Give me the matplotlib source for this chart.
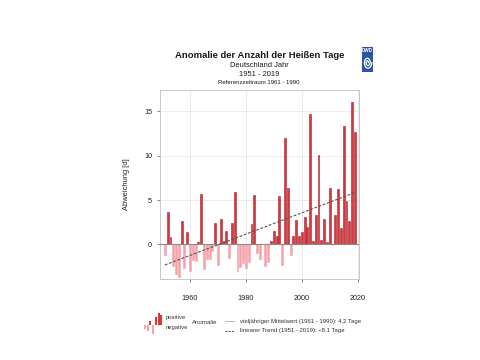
import numpy as np
import matplotlib
matplotlib.use("Agg")
import matplotlib.pyplot as plt
from matplotlib.patches import Rectangle

plt.rcParams['font.family'] = ['Liberation Sans', 'DejaVu Sans']

# Anomalie der Anzahl der Heissen Tage, Deutschland, Referenz 1961-1990
years = list(range(1951, 2020))
anomaly = [-1.2, 3.7, 0.85, -2.4, -3.3, -3.7, 2.6, -2.7, 1.35, -3.0,
           -1.8, -1.9, 0.25, 5.7, -2.8, -1.7, -1.6, -0.8, 2.4, -2.3,
           2.9, 0.4, 1.5, -1.5, 2.4, 5.9, -3.0, -2.5, -2.1, -2.7,
           -2.0, 2.3, 5.6, -1.0, -1.6, 0.1, -2.4, -2.0, 0.4, 1.5,
           0.9, 5.4, -2.3, 12.0, 6.3, -1.2, 0.9, 2.8, 0.9, 1.4,
           3.1, 2.0, 14.7, 0.4, 3.3, 10.1, 0.5, 2.9, 0.3, 6.3,
           -0.1, 3.3, 6.2, 1.8, 13.3, 4.9, 2.6, 16.1, 12.7]
xticks = [1960, 1980, 2000, 2020]
yticks = [0, 5, 10, 15]
icon_vals = [-0.35, -0.6, 0.5, -1.0, 0.9, 1.4, 1.2]

pos_col = '#d9363e'
pos_edge = '#a8222a'
neg_col = '#f6a3a8'

yrs = np.array(years)
ano = np.array(anomaly)

fig = plt.figure(figsize=(4.8, 3.6), dpi=100)
ax = fig.add_axes([0.333, 0.225, 0.415, 0.525])

cols = [pos_col if v >= 0 else neg_col for v in ano]
edges = [pos_edge if v >= 0 else neg_col for v in ano]
ax.bar(yrs, ano, width=0.68, color=cols, edgecolor=edges, linewidth=0.4, zorder=2)

# baseline = vieljaehriger Mittelwert
ax.axhline(0, color='#8a8a8a', linewidth=0.8, zorder=3)

# linear trend
k, d = np.polyfit(yrs, ano, 1)
ax.plot([yrs[0], yrs[-1]], [k * yrs[0] + d, k * yrs[-1] + d],
        color='#555555', linestyle=(0, (2.5, 1.5)), linewidth=0.8, zorder=4)

ax.set_xlim(1949.2, 2020.5)
ax.set_ylim(-3.9, 17.4)
ax.set_xticks(xticks)
ax.set_yticks(yticks)
ax.grid(True, color='#e9e9e9', linewidth=0.6, zorder=0)
ax.set_axisbelow(True)
for s in ax.spines.values():
    s.set_color('#c8c8c8')
    s.set_linewidth(0.7)
ax.tick_params(axis='both', colors='#555555', labelcolor='#222222',
               labelsize=5.2, length=2.5, width=0.5)
ax.tick_params(axis='x', pad=9)
ax.tick_params(axis='y', pad=3)
ax.set_ylabel('Abweichung [d]', fontsize=5.4, labelpad=10, color='#222222')

# titles
cx = 0.54
fig.text(cx, 0.847, 'Anomalie der Anzahl der Heißen Tage', ha='center', va='center',
         fontsize=6.8, fontweight='bold', color='#1a1a1a')
fig.text(cx, 0.819, 'Deutschland Jahr', ha='center', va='center', fontsize=5.4, color='#1a1a1a')
fig.text(cx, 0.792, '1951 - 2019', ha='center', va='center', fontsize=5.4, color='#1a1a1a')
fig.text(cx, 0.770, 'Referenzzeitraum 1961 - 1990', ha='center', va='center', fontsize=4.3, color='#1a1a1a')

# DWD logo
lax = fig.add_axes([0.754, 0.800, 0.024, 0.069])
lax.add_patch(Rectangle((0, 0), 1, 1, facecolor='#2b55a8', edgecolor='none'))
lax.text(0.5, 0.85, 'DWD', ha='center', va='center', fontsize=3.3,
         fontweight='bold', color='white')
t = np.linspace(0, 4 * np.pi, 200)
r = 0.06 + 0.3 * t / t[-1]
lax.plot(0.5 + r * np.cos(t), 0.38 + 0.7 * r * np.sin(t), color='white', linewidth=0.9)
lax.set_xlim(0, 1)
lax.set_ylim(0, 1)
lax.axis('off')

# legend
iax = fig.add_axes([0.298, 0.069, 0.042, 0.064])
ix = np.arange(len(icon_vals))
iax.bar(ix, icon_vals, width=0.7,
        color=[pos_col if v >= 0 else neg_col for v in icon_vals])
iax.set_ylim(-1.1, 1.5)
iax.axis('off')
fig.text(0.346, 0.117, 'positive', ha='left', va='center', fontsize=4.2, color='#333333')
fig.text(0.346, 0.089, 'negative', ha='left', va='center', fontsize=4.2, color='#333333')
fig.text(0.400, 0.103, 'Anomalie', ha='left', va='center', fontsize=4.4, color='#333333')
fig.add_artist(plt.Line2D([0.469, 0.487], [0.108, 0.108], transform=fig.transFigure,
                          color='#bbbbbb', linewidth=0.8))
fig.add_artist(plt.Line2D([0.469, 0.487], [0.081, 0.081], transform=fig.transFigure,
                          color='#444444', linewidth=0.7, linestyle=(0, (2, 1.2))))
fig.text(0.500, 0.108, 'vieljähriger Mittelwert (1961 - 1990): 4,2 Tage', ha='left',
         va='center', fontsize=4.3, color='#333333')
fig.text(0.500, 0.081, 'linearer Trend (1951 - 2019): +8,1 Tage', ha='left',
         va='center', fontsize=4.3, color='#333333')

fig.savefig('out.png', dpi=100)
